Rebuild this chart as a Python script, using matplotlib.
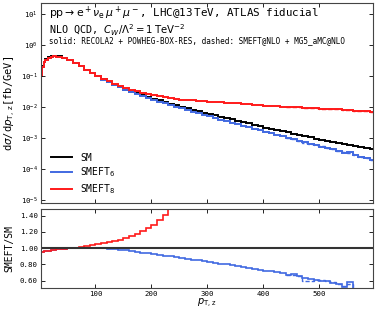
import numpy as np
import matplotlib
matplotlib.use("Agg")
import matplotlib.pyplot as plt

plt.rcParams['font.family'] = ['DejaVu Sans Mono', 'DejaVu Sans']
plt.rcParams['mathtext.fontset'] = 'dejavusans'

# Bordi dei bin in p_T,z [GeV]
edges = [0, 5, 7.5, 10, 15, 20, 25, 30] + list(range(40, 601, 10))

# SM (RECOLA2 + POWHEG-BOX-RES) [fb/GeV]
sm = [0.10, 0.20, 0.28, 0.34, 0.39, 0.42, 0.43, 0.42, 0.38, 0.32, 0.26, 0.20, 0.155, 0.12,
      0.095, 0.076, 0.062, 0.051, 0.043, 0.036, 0.031, 0.027, 0.0235, 0.0205,
      0.0180, 0.0160, 0.0143, 0.0127, 0.0113, 0.0101, 0.0090, 0.0081, 0.0072, 0.0065,
      0.0059, 0.0053, 0.0048, 0.0043, 0.0039, 0.0035, 0.0032, 0.0029, 0.0026, 0.0024,
      0.00215, 0.00196, 0.00179, 0.00163, 0.00149, 0.00136, 0.00124, 0.00113, 0.00103, 0.00094,
      0.00086, 0.00080, 0.00074, 0.00069, 0.00064, 0.00059, 0.00055, 0.00051, 0.00047, 0.00044]

# Rapporti SMEFT/SM
r6 = [0.955, 0.958, 0.961, 0.965, 0.970, 0.975, 0.980, 0.985, 0.992, 0.997, 1.000, 1.002, 1.002, 1.001,
      1.000, 0.997, 0.993, 0.988, 0.982, 0.975, 0.966, 0.956, 0.946, 0.936,
      0.925, 0.916, 0.906, 0.897, 0.887, 0.877, 0.868, 0.858, 0.848, 0.839,
      0.829, 0.820, 0.810, 0.800, 0.790, 0.780, 0.769, 0.758, 0.747, 0.736,
      0.724, 0.713, 0.702, 0.692, 0.672, 0.685, 0.655, 0.632, 0.615, 0.608,
      0.600, 0.590, 0.575, 0.556, 0.525, 0.578, 0.490, 0.475, 0.460, 0.440]
r8 = [0.955, 0.958, 0.962, 0.966, 0.970, 0.975, 0.981, 0.988, 0.995, 1.001, 1.007, 1.014, 1.023, 1.033,
      1.045, 1.058, 1.072, 1.088, 1.106, 1.127, 1.150, 1.175, 1.205, 1.245,
      1.29, 1.35, 1.41, 1.49, 1.58, 1.70, 1.84, 1.99, 2.17, 2.34,
      2.51, 2.72, 2.92, 3.16, 3.38, 3.66, 3.88, 4.14, 4.46, 4.67,
      5.02, 5.41, 5.81, 6.26, 6.71, 7.21, 7.74, 8.32, 8.93, 9.57,
      10.2, 10.8, 11.4, 11.9, 12.5, 13.2, 13.8, 14.5, 15.3, 15.9]

# SMEFT@NLO + MG5_aMC@NLO (tratteggiato), bin da 440 a 600 GeV
edges_mg5 = list(range(440, 601, 10))
r6_mg5 = [0.675, 0.670, 0.655, 0.600, 0.598, 0.612, 0.612, 0.595, 0.578, 0.560,
          0.540, 0.560, 0.495, 0.478, 0.462, 0.445]
r8_mg5 = [6.6, 7.1, 7.7, 8.2, 8.9, 9.5, 10.1, 10.7, 11.3, 11.9,
          12.4, 13.1, 13.7, 14.4, 15.2, 15.8]

sm = np.array(sm)
r6 = np.array(r6)
r8 = np.array(r8)
sm_mg5 = sm[-len(r6_mg5):]

c_sm = 'black'
c_6 = '#4169e1'
c_8 = '#ff1a1a'
dash = (0, (3, 1.5))

fig = plt.figure(figsize=(3.81, 3.14), dpi=100)
ax = fig.add_axes([0.107, 0.354, 0.872, 0.636])
axr = fig.add_axes([0.107, 0.083, 0.872, 0.251])

# Pannello superiore
ax.stairs(sm, edges, baseline=None, color=c_sm, lw=1.4, label='SM')
ax.stairs(sm * r6, edges, baseline=None, color=c_6, lw=1.4, label=r'SMEFT$_6$')
ax.stairs(sm * r8, edges, baseline=None, color=c_8, lw=1.4, label=r'SMEFT$_8$')
ax.stairs(sm_mg5 * np.array(r6_mg5), edges_mg5, baseline=None, color=c_6, lw=1.0, ls=dash)
ax.stairs(sm_mg5 * np.array(r8_mg5), edges_mg5, baseline=None, color=c_8, lw=1.0, ls=dash)
ax.set_yscale('log')
ax.set_xlim(2.5, 596)
ax.set_ylim(8e-6, 22)
ax.set_ylabel(r'd$\sigma$/d$p_{\mathrm{T,\,z}}$[fb/GeV]', fontsize=7.5, labelpad=2)
ax.set_xticks([100, 200, 300, 400, 500])
ax.tick_params(labelbottom=False)
ax.minorticks_off()

ax.text(0.025, 0.99, r'$\mathrm{pp}\to\mathrm{e}^+\nu_\mathrm{e}\,\mu^+\mu^-$, LHC@13$\,$TeV, ATLAS fiducial',
        transform=ax.transAxes, fontsize=7.8, va='top')
ax.text(0.025, 0.905, r'NLO QCD, $C_W/\Lambda^2 = 1\,\mathrm{TeV}^{-2}$',
        transform=ax.transAxes, fontsize=7.3, va='top')
ax.text(0.025, 0.835, 'solid: RECOLA2 + POWHEG-BOX-RES, dashed: SMEFT@NLO + MG5_aMC@NLO',
        transform=ax.transAxes, fontsize=5.5, va='top')

ax.legend(loc='lower left', frameon=False, fontsize=7, handlelength=2.2,
          borderaxespad=0.3, labelspacing=0.3, bbox_to_anchor=(0.01, 0.0))

# Pannello dei rapporti
axr.axhline(1.0, color='#333333', lw=1.5)
axr.stairs(r6, edges, baseline=None, color=c_6, lw=1.2)
axr.stairs(r8, edges, baseline=None, color=c_8, lw=1.2)
axr.stairs(r6_mg5, edges_mg5, baseline=None, color=c_6, lw=1.0, ls=dash)
axr.set_xlim(2.5, 596)
axr.set_ylim(0.51, 1.48)
axr.set_xticks([100, 200, 300, 400, 500])
axr.set_yticks([0.6, 0.8, 1.0, 1.2, 1.4])
axr.yaxis.set_major_formatter(plt.FormatStrFormatter('%.2f'))
axr.set_ylabel('SMEFT/SM', fontsize=7, labelpad=4)
axr.set_xlabel(r'$p_{\mathrm{T,\,z}}$', fontsize=7, labelpad=0)

for a in (ax, axr):
    a.tick_params(direction='in', top=True, right=True, labelsize=5.3, length=3, width=0.6, pad=2)
    for s in a.spines.values():
        s.set_linewidth(0.8)
        s.set_color('#444444')

fig.savefig('out.png', dpi=100)
